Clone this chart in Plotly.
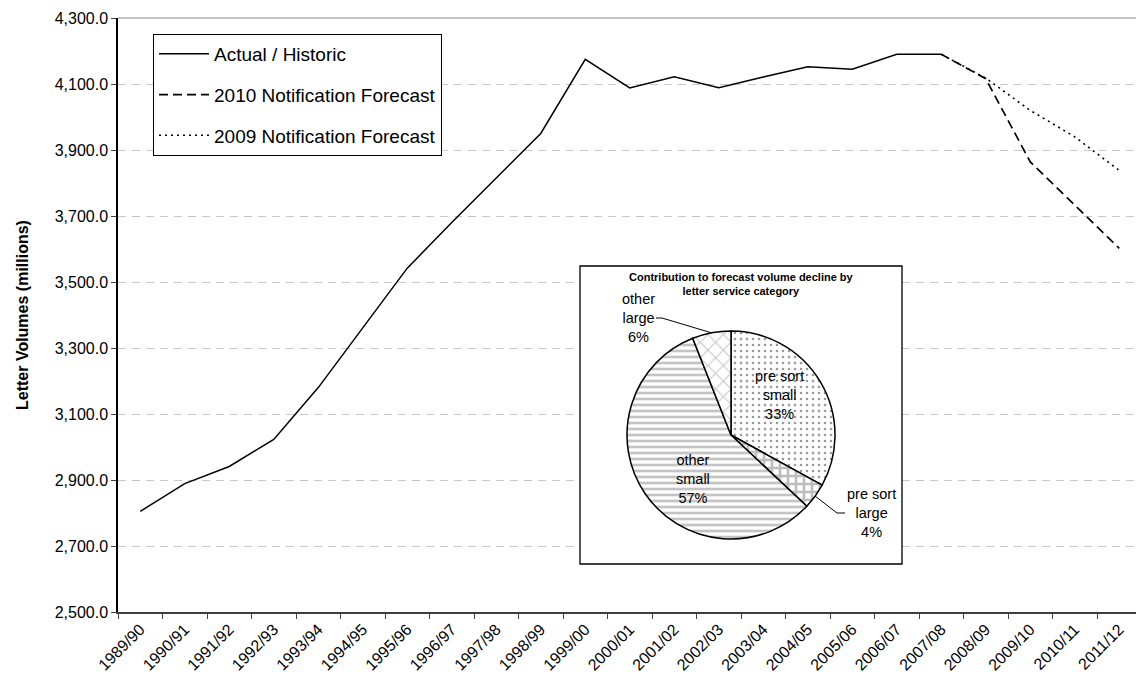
import math
import plotly.graph_objects as go

# ---- data -------------------------------------------------------------
years = [
    "1989/90", "1990/91", "1991/92", "1992/93", "1993/94", "1994/95",
    "1995/96", "1996/97", "1997/98", "1998/99", "1999/00", "2000/01",
    "2001/02", "2002/03", "2003/04", "2004/05", "2005/06", "2006/07",
    "2007/08", "2008/09", "2009/10", "2010/11", "2011/12",
]
actual = [2805, 2889, 2941, 3023, 3180, 3360, 3542, 3680, 3814, 3950,
          4175, 4088, 4122, 4089, 4121, 4152, 4145, 4190, 4190]
forecast_2010 = [4190, 4116, 3864, 3732, 3602]
forecast_2009 = [4190, 4118, 4020, 3940, 3838]

pie_service = ["pre sort", "pre sort", "other", "other"]
pie_size = ["small", "large", "small", "large"]
pie_share = [33, 4, 57, 6]

Y_MIN, Y_MAX, Y_STEP = 2500, 4300, 200

# ---- geometry helpers ---------------------------------------------------
W, H = 1136, 692
ML, MR, MT, MB = 118, 0, 18, 80
PW, PH = W - ML - MR, H - MT - MB
CAT_W = 44.5                      # pixel width of one category slot
X_HI = -0.5 + PW / CAT_W          # plot is cut just after the last category


def px(x):
    return (x - ML) / PW


def py(y):
    return (H - MB - y) / PH


def xd(x):
    return -0.5 + (x - ML) / CAT_W


def yd(y):
    return Y_MAX - (y - MT) / PH * (Y_MAX - Y_MIN)


FONT = "Arial, Liberation Sans, sans-serif"

fig = go.Figure()

n_act = len(actual)
fc_x = years[n_act - 1:]

fig.add_trace(go.Scatter(
    x=years[:n_act], y=actual, mode="lines", name="Actual / Historic",
    line=dict(color="black", width=1.5), legendgroup="a", hoverinfo="skip",
))
fig.add_trace(go.Scatter(
    x=fc_x, y=forecast_2010, mode="lines", name="2010 Notification Forecast",
    line=dict(color="black", width=1.7, dash="9px,5px"), legendgroup="b",
    hoverinfo="skip",
))
fig.add_trace(go.Scatter(
    x=fc_x, y=forecast_2009, mode="lines", name="2009 Notification Forecast",
    line=dict(color="black", width=1.6, dash="2px,4px"), legendgroup="c",
    hoverinfo="skip",
))

# ---- inset pie ----------------------------------------------------------
cx, cy, r = 731, 435, 104
fig.add_trace(go.Pie(
    values=pie_share,
    labels=[f"{a} {b}" for a, b in zip(pie_service, pie_size)],
    sort=False, direction="clockwise", rotation=0,
    textinfo="none", showlegend=False, hoverinfo="skip",
    domain=dict(x=[px(cx - r), px(cx + r)], y=[py(cy + r), py(cy - r)]),
    marker=dict(
        colors=["white"] * 4,
        line=dict(color="black", width=1.5),
        pattern=dict(
            shape=[".", "+", "-", "x"],
            fgcolor=["#9a9a9a", "#bdbdbd", "#c4c4c4", "#c8c8c8"],
            bgcolor="white",
            size=[6, 8, 6, 11],
            solidity=[0.15, 0.55, 0.45, 0.2],
        ),
    ),
))

shapes = []
annotations = []

# inset frame, above the gridlines but below the traces
box = dict(x0=580, x1=902, y0=266, y1=564)
shapes.append(dict(
    type="rect", xref="x", yref="y", layer="between",
    x0=xd(box["x0"]), x1=xd(box["x1"]), y0=yd(box["y1"]), y1=yd(box["y0"]),
    fillcolor="white", line=dict(color="black", width=1.3),
))

# top frame line of the plot area
shapes.append(dict(
    type="line", xref="paper", yref="paper", x0=0, x1=1, y0=1, y1=1,
    layer="above", line=dict(color="#888888", width=1),
))

annotations.append(dict(
    x=px((box["x0"] + box["x1"]) / 2), y=py(284), xref="paper", yref="paper",
    text="<b>Contribution to forecast volume decline by<br>letter service category</b>",
    showarrow=False, font=dict(family=FONT, size=11, color="black"),
    align="center", xanchor="center", yanchor="middle",
))

# slice labels
label_pos = [(779, 395), (871, 513), (693, 479), (638, 318)]
for i, (sx, sy) in enumerate(label_pos):
    annotations.append(dict(
        x=px(sx), y=py(sy), xref="paper", yref="paper", showarrow=False,
        text=f"{pie_service[i]}<br>{pie_size[i]}<br>{pie_share[i]}%",
        font=dict(family=FONT, size=14.5, color="black"), align="center",
        xanchor="center", yanchor="middle",
    ))

# leader lines for the outside labels, starting at each slice's mid-angle
total = sum(pie_share)
starts = [sum(pie_share[:i]) for i in range(len(pie_share))]
leader_ends = {1: [(837, 513), (845, 513)], 3: [(662, 318), (656, 318)]}
for i, pts in leader_ends.items():
    ang = math.radians((starts[i] + pie_share[i] / 2) / total * 360)
    ex, ey = cx + r * math.sin(ang), cy - r * math.cos(ang)
    path_pts = [(ex, ey)] + pts
    path = "M" + " L".join(f"{px(a)},{py(b)}" for a, b in path_pts)
    shapes.append(dict(type="path", xref="paper", yref="paper", path=path,
                       layer="above", line=dict(color="black", width=1)))

# y axis title
annotations.append(dict(
    x=px(22), y=0.5, xref="paper", yref="paper", showarrow=False,
    text="<b>Letter Volumes (millions)</b>", textangle=-90,
    xanchor="center", yanchor="middle",
    font=dict(family=FONT, size=16, color="black"),
))

fig.update_layout(
    width=W, height=H,
    margin=dict(l=ML, r=MR, t=MT, b=MB, pad=0),
    paper_bgcolor="white", plot_bgcolor="white",
    font=dict(family=FONT, color="black"),
    shapes=shapes, annotations=annotations,
    hovermode=False,
    legend=dict(
        x=px(153), y=py(34), xanchor="left", yanchor="top",
        bgcolor="white", bordercolor="black", borderwidth=1,
        font=dict(family=FONT, size=19, color="black"),
        traceorder="grouped", tracegroupgap=13, itemwidth=50,
    ),
    xaxis=dict(
        type="category", range=[-0.5, X_HI], tickson="boundaries",
        ticks="outside", ticklen=5, tickcolor="#404040", tickwidth=1,
        showline=True, linecolor="#404040", linewidth=1.5,
        showgrid=False, tickangle=-45, automargin=False,
        tickfont=dict(family=FONT, size=16, color="black"),
    ),
    yaxis=dict(
        range=[Y_MIN, Y_MAX], dtick=Y_STEP, tick0=Y_MIN, tickformat=",.1f",
        ticks="outside", ticklen=5, tickcolor="#404040", tickwidth=1,
        showline=True, linecolor="black", linewidth=1.5,
        showgrid=True, gridcolor="#c8c8c8", griddash="8px,6px", gridwidth=1,
        zeroline=False, automargin=False,
        tickfont=dict(family=FONT, size=16, color="black"),
    ),
)

fig.write_html("out.html")
